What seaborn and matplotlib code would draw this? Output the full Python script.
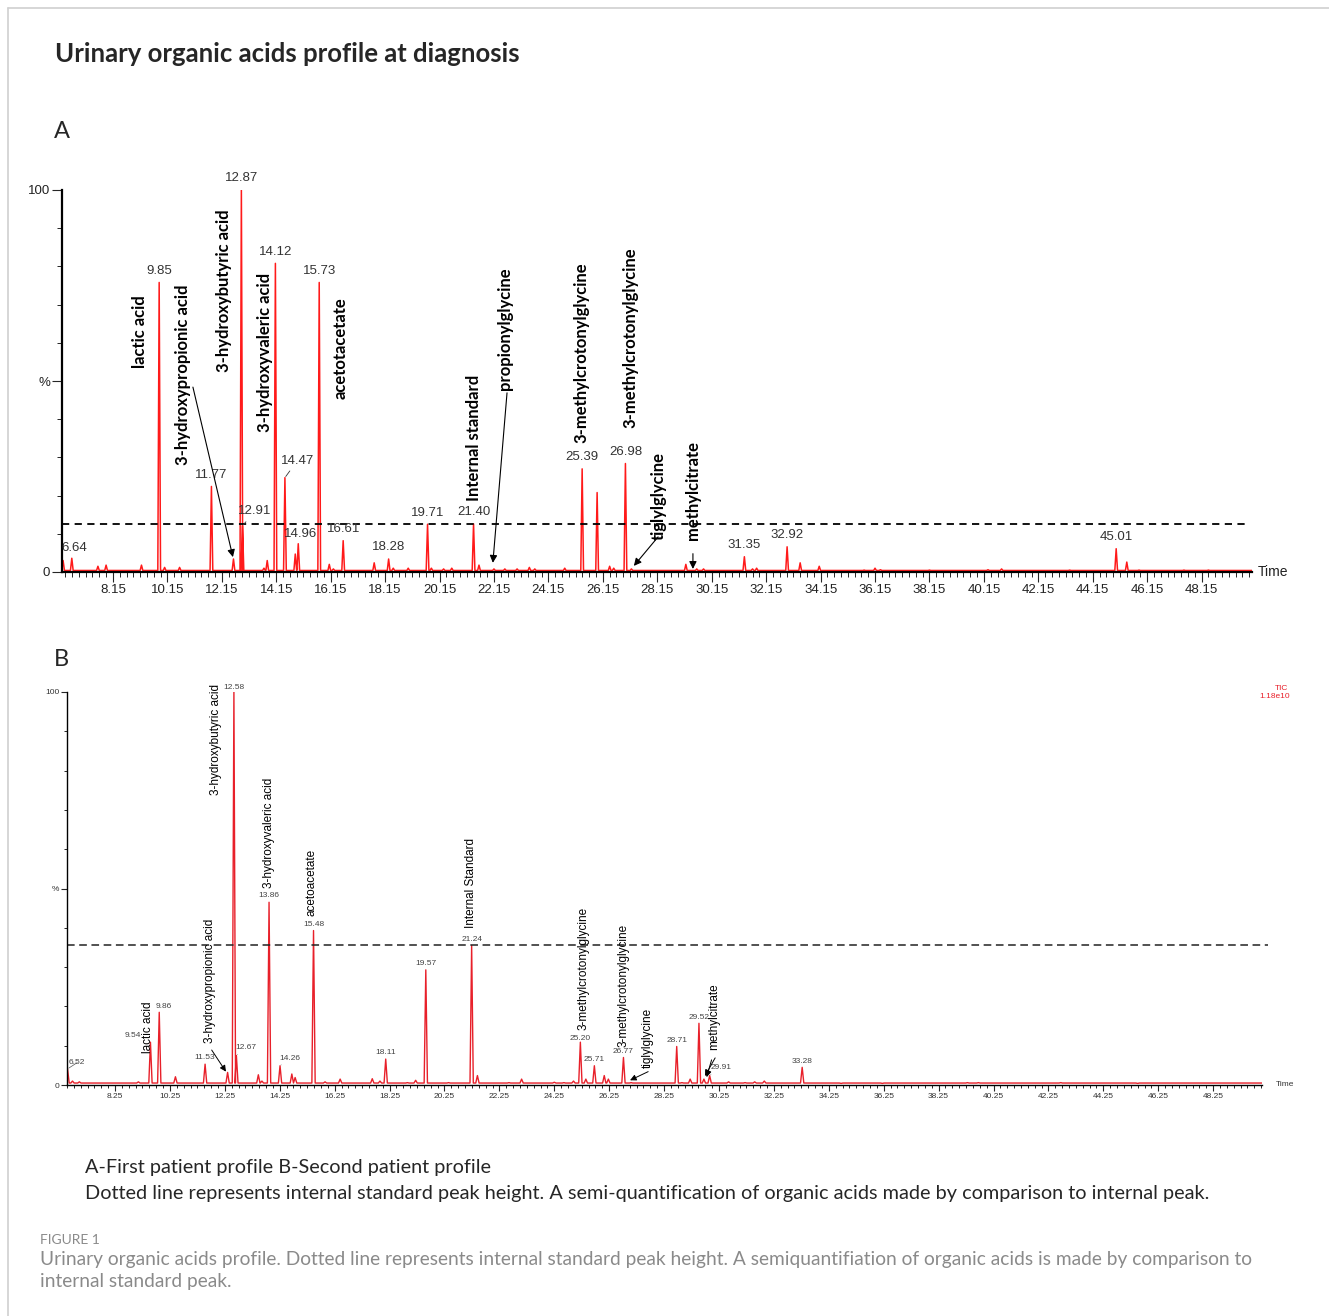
import matplotlib
matplotlib.use("Agg")
import numpy as np
import pandas as pd
import matplotlib.pyplot as plt
import seaborn as sns
from matplotlib import font_manager
from matplotlib.lines import Line2D
from matplotlib.ticker import FixedLocator

# ---- Patient A: retention time (min) and relative abundance (%) ----
a_rt = [6.32, 6.64, 7.60, 7.90, 9.20, 9.85, 10.05, 10.60, 11.77, 12.58, 12.87, 12.91,
        13.70, 13.82, 14.12, 14.47, 14.85, 14.96, 15.73, 16.10, 16.25, 16.61, 17.75,
        18.28, 18.45, 19.00, 19.71, 19.85, 20.30, 20.60, 21.40, 21.60, 22.15, 22.55,
        23.00, 23.45, 23.65, 24.75, 25.39, 25.94, 26.40, 26.55, 26.98, 27.20, 29.20,
        29.60, 29.85, 31.35, 31.65, 31.80, 32.92, 33.40, 34.10, 35.75, 36.15, 36.35,
        38.15, 40.30, 40.80, 43.30, 44.40, 45.01, 45.40, 45.85, 47.50, 48.40]
a_h = [3.0, 3.6, 1.5, 1.8, 1.8, 75.8, 1.2, 1.2, 22.4, 3.4, 100.0, 12.1,
       1.0, 3.0, 80.8, 24.7, 4.7, 7.4, 75.8, 2.0, 0.8, 8.2, 2.4,
       3.4, 1.0, 1.0, 12.5, 1.0, 0.8, 1.0, 12.6, 1.8, 0.8, 0.8,
       0.8, 1.2, 0.8, 1.0, 27.0, 20.8, 1.5, 1.0, 28.4, 0.8, 2.0,
       0.8, 0.8, 4.0, 0.8, 1.0, 6.6, 2.4, 1.5, 0.5, 1.0, 0.6,
       0.5, 0.6, 0.8, 0.5, 0.4, 6.1, 2.6, 0.5, 0.5, 0.5]
a_labelled = [6.64, 9.85, 11.77, 12.87, 12.91, 14.12, 14.47, 14.96, 15.73, 16.61,
              18.28, 19.71, 21.40, 25.39, 26.98, 31.35, 32.92, 45.01]
a_internal_std = 12.6
a_compounds = ["lactic acid", "3-hydroxypropionic acid", "3-hydroxybutyric acid",
               "3-hydroxyvaleric acid", "acetotacetate", "Internal standard",
               "propionylglycine", "3-methylcrotonylglycine", "3-methylcrotonylglycine",
               "tiglylglycine", "methylcitrate"]

# ---- Patient B ----
b_rt = [6.52, 6.70, 6.95, 9.10, 9.54, 9.86, 10.45, 11.20, 11.53, 12.35, 12.58, 12.67,
        13.47, 13.60, 13.86, 14.26, 14.69, 14.81, 15.48, 15.90, 16.45, 17.62, 17.90,
        18.11, 18.90, 19.20, 19.57, 20.10, 20.40, 21.24, 21.45, 22.60, 23.06, 23.60,
        24.25, 24.60, 24.95, 25.20, 25.40, 25.71, 26.07, 26.22, 26.77, 27.05, 27.30,
        28.71, 28.90, 29.20, 29.52, 29.70, 29.91, 30.60, 31.20, 31.55, 31.90, 33.28,
        34.70, 36.20, 39.30, 39.70, 42.70, 44.30, 44.60, 45.50]
b_h = [4.1, 1.0, 0.8, 0.8, 10.9, 18.5, 2.1, 0.5, 5.3, 3.2, 100.0, 7.5,
       2.6, 1.0, 46.5, 4.9, 2.8, 1.9, 39.3, 0.8, 1.5, 1.6, 1.0,
       6.6, 0.6, 1.2, 29.3, 0.5, 0.6, 35.5, 2.4, 0.6, 1.5, 0.5,
       0.7, 0.6, 1.0, 10.9, 1.5, 4.9, 2.4, 1.5, 7.0, 0.6, 0.5,
       9.8, 0.6, 1.5, 15.7, 1.5, 2.4, 0.8, 0.6, 0.8, 1.0, 4.5,
       0.4, 0.4, 0.6, 0.6, 0.6, 0.5, 0.5, 0.4]
b_labelled = [6.52, 9.54, 9.86, 11.53, 12.58, 12.67, 13.86, 14.26, 15.48, 18.11, 19.57,
              21.24, 25.20, 25.71, 26.77, 28.71, 29.52, 29.91, 33.28]
b_internal_std = 35.5
b_compounds = ["lactic acid", "3-hydroxypropionic acid", "3-hydroxybutyric acid",
               "3-hydroxyvaleric acid", "acetoacetate", "Internal Standard",
               "3-methylcrotonylglycine", "3-methylcrotonylglycine", "tiglylglycine",
               "methylcitrate"]

# ---------------------------------------------------------------------
W, H = 1329, 1316
sns.set_style("white")
installed = {f.name for f in font_manager.fontManager.ttflist}
NARROW = "Liberation Sans Narrow" if "Liberation Sans Narrow" in installed else "Liberation Sans"
plt.rcParams["font.family"] = ["Lato", "DejaVu Sans"]

fig = plt.figure(figsize=(W / 100, H / 100), dpi=100)
fig.patch.set_facecolor("white")


def px_axes(left, top, right, bottom):
    return fig.add_axes([left / W, 1 - bottom / H, (right - left) / W, (bottom - top) / H])


def fig_text(x, y, s, **kw):
    fig.text(x / W, 1 - y / H, s, **kw)


def build_trace(rts, hs, xlim, base, w):
    rows = [(xlim[0], base)]
    for rt, h in sorted(zip(rts, hs)):
        rows += [(rt - w, base), (rt, h), (rt + w, base)]
    rows.append((xlim[1], base))
    return pd.DataFrame(rows, columns=["time", "signal"])


def style_axis(ax, xlim, first_major, spine_w, tick_fs, tick_color, ylab_fs, maj_len, min_len):
    ax.set_xlim(*xlim)
    ax.set_ylim(0, 100)
    for s in ["top", "right"]:
        ax.spines[s].set_visible(False)
    for s in ["left", "bottom"]:
        ax.spines[s].set_color("black")
        ax.spines[s].set_linewidth(spine_w)
    majors = np.arange(first_major, xlim[1], 2.0)
    ax.xaxis.set_major_locator(FixedLocator(majors))
    ax.set_xticklabels([f"{m:.2f}" for m in majors], fontsize=tick_fs, color=tick_color,
                       family=NARROW)
    ax.xaxis.set_minor_locator(FixedLocator(np.arange(first_major - 1.75, xlim[1], 0.25)))
    ax.yaxis.set_major_locator(FixedLocator([0, 50, 100]))
    ax.set_yticklabels(["0", "%", "100"], fontsize=ylab_fs, color=tick_color, family=NARROW)
    ax.yaxis.set_minor_locator(FixedLocator(np.arange(10, 100, 10)))
    ax.tick_params(which="major", direction="out", length=maj_len, width=0.8,
                   bottom=True, left=True, pad=1.5)
    ax.tick_params(which="minor", direction="out", length=min_len, width=0.7,
                   bottom=True, left=True)
    ax.set_xlabel("")
    ax.set_ylabel("")
    ax.set_facecolor("none")


# ======================= Panel A =======================
xlim_a = (6.28, 50.0)
ax_a = px_axes(62, 190, 1252, 572)
trace_a = build_trace(a_rt, a_h, xlim_a, 0.4, 0.05)
sns.lineplot(data=trace_a, x="time", y="signal", ax=ax_a, color="#ff1a1a", lw=1.1,
             estimator=None, sort=False)
ax_a.axhline(a_internal_std, xmin=0, xmax=0.998, color="black", lw=1.3, ls=(0, (4, 3)))
style_axis(ax_a, xlim_a, 8.15, 1.6, 9.5, "#222222", 9.5, 7, 3.5)
ax_a.text(1.005, 0.0, "Time", transform=ax_a.transAxes, fontsize=10, family=NARROW,
          va="center", ha="left", color="#222222")

a_height = dict(zip(a_rt, a_h))
a_num_offsets = {12.91: (9, 6), 14.47: (9, 8), 14.96: (2, 3), 6.64: (2, 3)}
for rt in a_labelled:
    dx, dy = a_num_offsets.get(rt, (0, 4))
    kw = dict(fontsize=9.5, family=NARROW, color="#333333", ha="center", va="bottom",
              textcoords="offset points")
    if rt in (12.91, 14.47):
        kw["arrowprops"] = dict(arrowstyle="-", color="#333333", lw=0.6, shrinkA=1, shrinkB=1)
    ax_a.annotate(f"{rt:.2f}", xy=(rt, a_height[rt]), xytext=(dx, dy), **kw)

a_label_pos = [(9.15, 53.4), (10.73, 28.0), (12.23, 52.4), (13.74, 36.6), (16.53, 45.3),
               (21.42, 18.6), (22.55, 47.6), (25.35, 33.8), (27.15, 37.7), (28.21, 8.4),
               (29.46, 8.4)]
for name, (x, y) in zip(a_compounds, a_label_pos):
    ax_a.text(x, y, name, rotation=90, ha="center", va="bottom", fontsize=12,
              fontweight="bold", color="black")

a_arrows = [((11.09, 48.4), (12.56, 3.9)), ((22.63, 46.9), (22.11, 2.4)),
            ((28.18, 9.2), (27.29, 1.6)), ((29.46, 4.8), (29.46, 0.8))]
for start, tip in a_arrows:
    ax_a.annotate("", xy=tip, xytext=start,
                  arrowprops=dict(arrowstyle="-|>", color="black", lw=0.8,
                                  mutation_scale=11, shrinkA=0, shrinkB=0))

# ======================= Panel B =======================
xlim_b = (6.5, 50.03)
ax_b = px_axes(67, 692, 1262, 1085)
trace_b = build_trace(b_rt, b_h, xlim_b, 0.5, 0.06)
sns.lineplot(data=trace_b, x="time", y="signal", ax=ax_b, color="#e8202a", lw=1.0,
             estimator=None, sort=False)
ax_b.axhline(b_internal_std, xmin=0, xmax=1.005, color="#222222", lw=1.1,
             ls=(0, (5, 3)), clip_on=False)
style_axis(ax_b, xlim_b, 8.25, 1.0, 6, "#333333", 6, 4, 2.5)
ax_b.text(1.012, 0.0, "Time", transform=ax_b.transAxes, fontsize=6, family="Liberation Sans",
          va="center", ha="left", color="#333333")

b_height = dict(zip(b_rt, b_h))
b_num_offsets = {6.52: (7, 2), 9.54: (-13, 2), 9.86: (3, 2), 12.67: (7, 3), 14.26: (7, 3),
                 29.91: (8, 3), 12.58: (0, 1), 25.20: (0, 0)}
for rt in b_labelled:
    dx, dy = b_num_offsets.get(rt, (0, 2))
    kw = dict(fontsize=6, family="Liberation Sans", color="#444444", ha="center",
              va="bottom", textcoords="offset points")
    if rt in (6.52, 12.67, 14.26, 29.91):
        kw["arrowprops"] = dict(arrowstyle="-", color="#555555", lw=0.5, shrinkA=0, shrinkB=1)
    ax_b.annotate(f"{rt:.2f}", xy=(rt, b_height[rt]), xytext=(dx, dy), **kw)

b_label_pos = [(9.45, 8.2), (11.71, 10.7), (11.93, 73.8), (13.86, 50.1), (15.39, 43.0),
               (21.22, 39.9), (25.33, 14.0), (26.79, 9.7), (27.67, 4.3), (30.07, 8.9)]
for name, (x, y) in zip(b_compounds, b_label_pos):
    ax_b.text(x, y, name, rotation=90, ha="center", va="bottom", fontsize=8.5,
              family=NARROW, color="black")

b_arrows = [((11.77, 8.9), (12.29, 3.4)), ((27.67, 3.4), (27.01, 1.2)),
            ((30.11, 6.9), (29.74, 2.3)), ((29.98, 6.4), (29.80, 2.0))]
for start, tip in b_arrows:
    ax_b.annotate("", xy=tip, xytext=start,
                  arrowprops=dict(arrowstyle="-|>", color="black", lw=0.7,
                                  mutation_scale=9, shrinkA=0, shrinkB=0))

fig_text(1288, 688, "TIC", fontsize=6, color="#e8202a", ha="right", va="center",
         family="Liberation Sans")
fig_text(1290, 696, "1.18e10", fontsize=6, color="#e8202a", ha="right", va="center",
         family="Liberation Sans")

# ======================= Texts =======================
fig_text(55, 54, "Urinary organic acids profile at diagnosis", fontsize=18.5,
         fontweight="bold", va="center", ha="left")
fig_text(54, 132, "A", fontsize=17, va="center", ha="left")
fig_text(54, 660, "B", fontsize=17, va="center", ha="left")
fig_text(85, 1167, "A-First patient profile B-Second patient profile", fontsize=14.3,
         va="center", ha="left")
fig_text(85, 1193, "Dotted line represents internal standard peak height. A semi-quantification "
         "of organic acids made by comparison to internal peak.", fontsize=14.3,
         va="center", ha="left")
fig_text(40, 1240, "FIGURE 1", fontsize=10, color="#8a8a8a", va="center", ha="left")
fig_text(40, 1259, "Urinary organic acids profile. Dotted line represents internal standard peak "
         "height. A semiquantifiation of organic acids is made by comparison to",
         fontsize=13.8, color="#8a8a8a", va="center", ha="left")
fig_text(40, 1282, "internal standard peak.", fontsize=13.8, color="#8a8a8a",
         va="center", ha="left")

# light frame of the figure panel
fig.add_artist(Line2D([8 / W, 1], [1 - 8 / H, 1 - 8 / H], color="#d0d0d0", lw=1.2))
fig.add_artist(Line2D([8 / W, 8 / W], [0, 1 - 8 / H], color="#d0d0d0", lw=1.2))

fig.savefig("out.png", dpi=100, facecolor="white")
